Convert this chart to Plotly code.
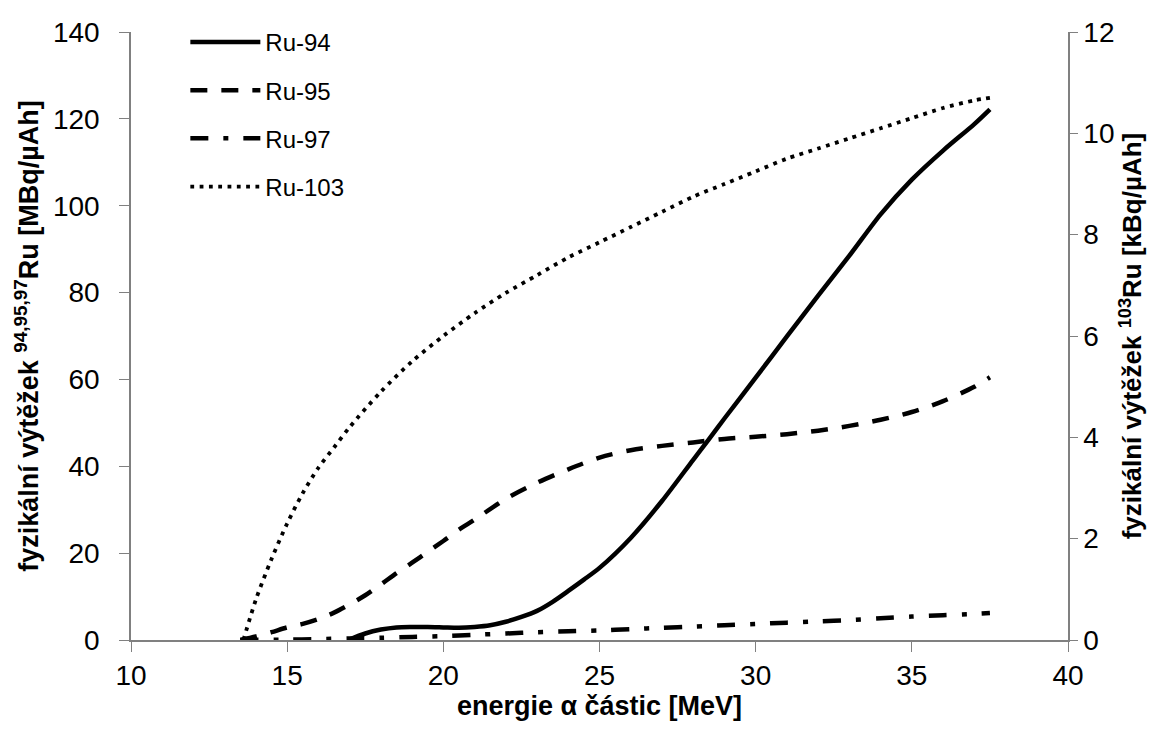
import plotly.graph_objects as go

# Ru-94 (left axis, MBq/uAh)
x_ru94 = [16.96, 17.5, 18, 18.5, 19, 19.5, 20, 20.5, 21, 21.5, 22, 22.5, 23, 23.5, 24, 24.5, 25, 26, 27, 28, 28.5, 29, 30, 31, 32, 33, 34, 35, 36, 37, 37.5]
y_ru94 = [0, 1.5, 2.4, 2.9, 3.0, 3.0, 2.9, 2.8, 3.0, 3.4, 4.2, 5.3, 6.7, 8.8, 11.3, 13.9, 16.6, 23.5, 32, 41.5, 46.2, 51, 60.4, 69.9, 79.3, 88.5, 98, 106, 112.7, 118.8, 122.2]

# Ru-95 (left axis)
x_ru95 = [13.5, 14, 14.5, 15, 15.5, 16, 16.5, 17, 17.5, 18, 18.5, 19, 19.5, 20, 20.5, 21, 22, 23, 24, 25, 26, 27, 28, 29, 30, 31, 32, 33, 34, 35, 36, 37, 37.5]
y_ru95 = [0, 0.8, 1.8, 2.9, 3.7, 4.8, 6.3, 8.2, 10.3, 12.8, 15.4, 17.8, 20.3, 22.8, 25.4, 27.7, 32.5, 36.2, 39.3, 42.0, 43.7, 44.7, 45.5, 46.3, 46.8, 47.4, 48.2, 49.3, 50.7, 52.5, 55.0, 58.3, 60.5]

# Ru-97 (left axis)
x_ru97 = [13.5, 15, 16, 17, 18, 19, 20, 21, 22, 23, 24, 25, 26, 27, 28, 29, 30, 31, 32, 33, 34, 35, 36, 37, 37.5]
y_ru97 = [0, 0.1, 0.2, 0.35, 0.5, 0.7, 0.9, 1.2, 1.5, 1.8, 2.0, 2.2, 2.5, 2.8, 3.1, 3.4, 3.7, 4.0, 4.3, 4.6, 5.0, 5.4, 5.7, 6.0, 6.2]

# Ru-103 (right axis, kBq/uAh)
x_ru103 = [13.6, 14, 14.5, 15, 15.5, 16, 16.5, 17, 18, 19, 20, 21, 22, 23, 24, 25, 26, 27, 28, 29, 30, 31, 32, 33, 34, 35, 36, 37, 37.5]
y_ru103 = [0, 0.8, 1.6, 2.3, 2.9, 3.4, 3.8, 4.2, 4.9, 5.5, 6.0, 6.45, 6.85, 7.2, 7.55, 7.85, 8.15, 8.45, 8.75, 9.0, 9.25, 9.5, 9.7, 9.9, 10.1, 10.3, 10.5, 10.65, 10.7]

x_ticks = [10, 15, 20, 25, 30, 35, 40]
yl_ticks = [0, 20, 40, 60, 80, 100, 120, 140]
yr_ticks = [0, 2, 4, 6, 8, 10, 12]

FONT = "Liberation Sans, Arial, sans-serif"

fig = go.Figure()
fig.add_trace(go.Scatter(x=x_ru94, y=y_ru94, name="Ru-94", mode="lines", legendgroup="a",
                         line=dict(color="black", width=4.5, shape="spline", smoothing=0.8)))
fig.add_trace(go.Scatter(x=x_ru95, y=y_ru95, name="Ru-95", mode="lines", legendgroup="b",
                         line=dict(color="black", width=4.5, dash="17px,14px", shape="spline", smoothing=0.8)))
fig.add_trace(go.Scatter(x=x_ru97, y=y_ru97, name="Ru-97", mode="lines", legendgroup="c",
                         line=dict(color="black", width=4.5, dash="18px,15px,5px,15px", shape="spline", smoothing=0.8)))
fig.add_trace(go.Scatter(x=x_ru103, y=y_ru103, name="Ru-103", mode="lines", legendgroup="d", yaxis="y2",
                         line=dict(color="black", width=3.8, dash="3.8px,5.5px", shape="spline", smoothing=0.8)))

axis_common = dict(showline=True, linecolor="#808080", linewidth=1.5, ticks="outside",
                   tickcolor="#808080", tickwidth=1.2, showgrid=False, zeroline=False,
                   automargin=False,
                   tickfont=dict(family=FONT, size=28, color="black"))

fig.update_layout(
    width=1161, height=729,
    margin=dict(l=123, r=101, t=24, b=97),
    paper_bgcolor="white", plot_bgcolor="white",
    font=dict(family=FONT, color="black"),
    xaxis=dict(range=[10, 40], tickvals=x_ticks, ticklen=10, **axis_common,
               title=dict(text="<b>energie α částic [MeV]</b>", font=dict(family=FONT, size=27), standoff=6)),
    yaxis=dict(range=[0, 140], tickvals=yl_ticks, ticklen=10, ticklabelstandoff=14, **axis_common,
               title=dict(text="<b>fyzikální výtěžek <sup>94,95,97</sup>Ru [MBq/µAh]</b>",
                          font=dict(family=FONT, size=27), standoff=6)),
    yaxis2=dict(range=[0, 12], tickvals=yr_ticks, overlaying="y", side="right", ticklen=8,
                ticklabelstandoff=0, **axis_common,
                title=dict(text="<b>fyzikální výtěžek <sup>103</sup>Ru [kBq/µAh]</b>",
                           font=dict(family=FONT, size=26), standoff=0)),
    legend=dict(x=0.058, y=1.02, xanchor="left", yanchor="top", traceorder="grouped",
                tracegroupgap=14, itemwidth=70, bgcolor="rgba(0,0,0,0)",
                font=dict(family=FONT, size=24, color="black")),
    showlegend=True,
)

fig.write_html("out.html")
